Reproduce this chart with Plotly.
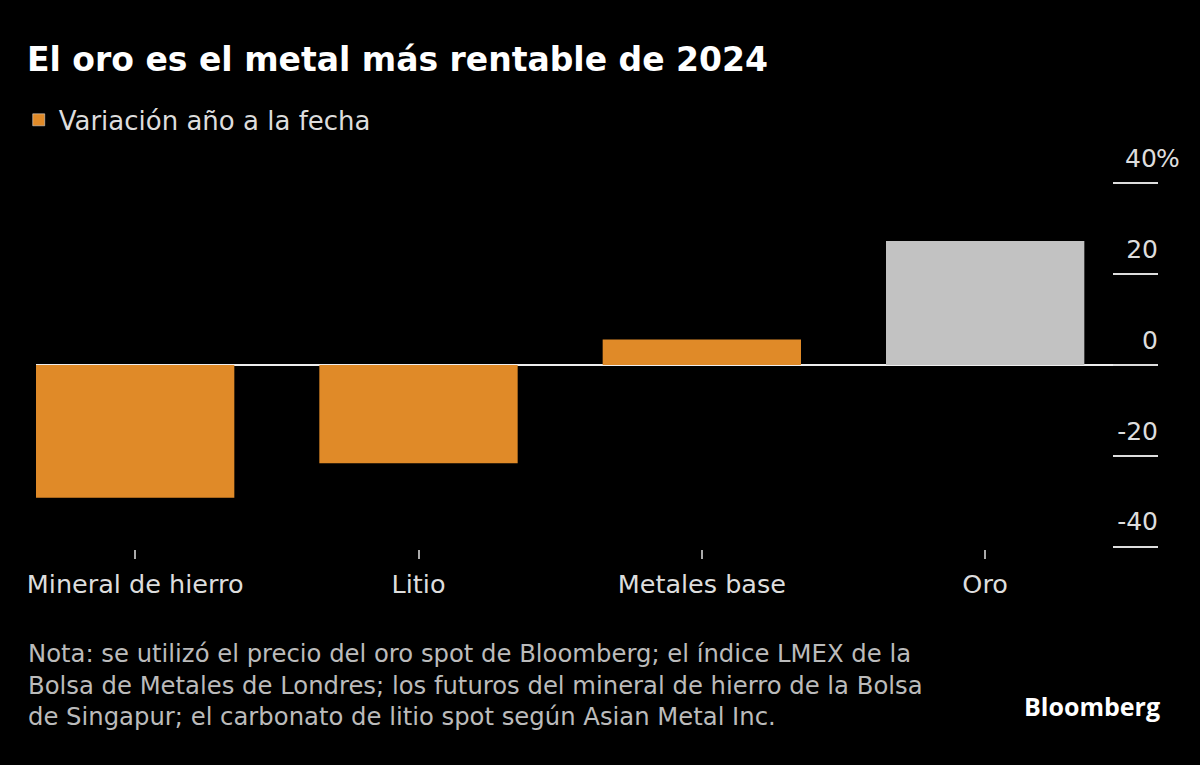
import plotly.graph_objects as go

categories = ["Mineral de hierro", "Litio", "Metales base", "Oro"]
values = [-29.2, -21.6, 5.6, 27.3]
bar_colors = ["#E08A28", "#E08A28", "#E08A28", "#C2C2C2"]
y_tickvals = [-40, -20, 0, 20, 40]
y_ticktext = ["-40", "-20", "0", "20", ""]
top_tick_value = 40
top_tick_label = "40"
top_tick_unit = "%"

title = "El oro es el metal más rentable de 2024"
legend_label = "Variación año a la fecha"
note = ("Nota: se utilizó el precio del oro spot de Bloomberg; el índice LMEX de la<br>"
        "Bolsa de Metales de Londres; los futuros del mineral de hierro de la Bolsa<br>"
        "de Singapur; el carbonato de litio spot según Asian Metal Inc.")

FONT = "DejaVu Sans"

fig = go.Figure()
fig.add_trace(go.Bar(
    x=categories, y=values, marker=dict(color=bar_colors, line=dict(width=0)),
    width=0.7, showlegend=False, hoverinfo="x+y",
))
# legend proxy
fig.add_trace(go.Bar(x=[None], y=[None], marker=dict(color="#E08A28"),
                     name=legend_label, showlegend=True))

fig.update_layout(
    width=1200, height=765,
    paper_bgcolor="black", plot_bgcolor="black",
    margin=dict(l=36, r=42, t=181, b=216),
    font=dict(family=FONT, color="#DDDDDD", size=24),
    title=dict(text="<b>" + title + "</b>", x=0, xref="container", xanchor="left",
               y=0.922, yanchor="middle", pad=dict(l=27),
               font=dict(family=FONT, size=33, color="white")),
    legend=dict(orientation="h", x=-0.0154, xanchor="left", y=1.166, yanchor="middle",
                font=dict(family=FONT, size=26, color="#DDDDDD"),
                itemwidth=30, traceorder="normal"),
    bargap=0.3,
    showlegend=True,
)
fig.update_xaxes(
    type="category", range=[-0.35, 3.61],
    showgrid=False, zeroline=False, showline=False,
    ticks="outside", ticklen=9, tickwidth=1.5, tickcolor="#AAAAAA",
    tickfont=dict(family=FONT, size=25.5, color="#DDDDDD"),
    ticklabelstandoff=3,
)
fig.update_yaxes(
    range=[-40.5, 40.5], side="right",
    tickvals=y_tickvals, ticktext=y_ticktext,
    showgrid=False, zeroline=True, zerolinecolor="#EEEEEE", zerolinewidth=2,
    showline=False,
    ticks="inside", ticklen=45, tickwidth=2, tickcolor="#DDDDDD",
    ticklabelposition="inside", ticklabelshift=-25, ticklabelstandoff=-43,
    tickfont=dict(family=FONT, size=25, color="#DDDDDD"),
)
fig.add_annotation(text=top_tick_label, xref="paper", yref="y", x=1.0, y=top_tick_value,
                   xanchor="right", yanchor="middle", yshift=25, xshift=1, showarrow=False,
                   font=dict(family=FONT, size=25, color="#DDDDDD"))
fig.add_annotation(text=top_tick_unit, xref="paper", yref="y", x=1.0, y=top_tick_value,
                   xanchor="left", yanchor="middle", yshift=25, xshift=-4, showarrow=False,
                   font=dict(family=FONT, size=25, color="#DDDDDD"))
fig.add_annotation(text=note, xref="paper", yref="paper", x=-0.0088, y=-0.3696,
                   xanchor="left", yanchor="middle", align="left", showarrow=False,
                   font=dict(family=FONT, size=24.3, color="#BBBBBB"))
fig.add_annotation(text="<b>Bloomberg</b>", xref="paper", yref="paper", x=1.0036, y=-0.4266,
                   xanchor="right", yanchor="middle", showarrow=False,
                   font=dict(family="Open Sans", size=25, color="white"))

fig.write_html("out.html", config={"displayModeBar": False},
               post_script="document.body.style.margin='0';")
